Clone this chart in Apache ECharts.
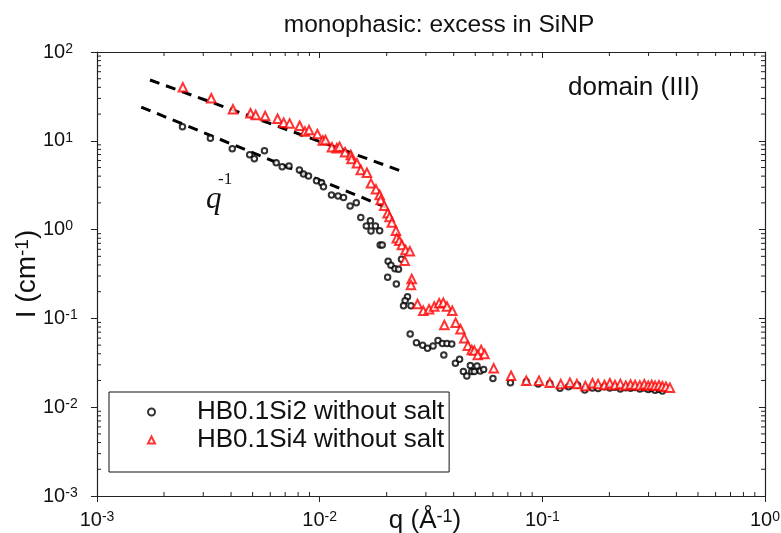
<!DOCTYPE html>
<html>
<head>
<meta charset="utf-8">
<script src="https://cdn.jsdelivr.net/npm/echarts@6/dist/echarts.min.js"></script>
<style>
  html, body { margin: 0; padding: 0; background: #fff; }
  #chart { width: 781px; height: 533px; }
</style>
</head>
<body>
<div id="chart"></div>
<script>
const FONT = 'Liberation Sans, Arial, sans-serif';

// HB0.1Si2 without salt (circles)
const si2Q = [0.00242, 0.00323, 0.00405, 0.00485, 0.00509, 0.00565, 0.00638, 0.00679, 0.00728, 0.00811,
  0.00846, 0.00891, 0.00968, 0.0102, 0.0104, 0.0113, 0.0121, 0.0128, 0.0137, 0.0146,
  0.0153, 0.0162, 0.0169, 0.0178, 0.0170, 0.0186, 0.0187, 0.0191, 0.0203, 0.0209,
  0.0218, 0.0226, 0.0233, 0.0202, 0.0221, 0.0248, 0.0242, 0.0238, 0.0257, 0.0255,
  0.0272, 0.0290, 0.0305, 0.0323, 0.0340, 0.0356, 0.0373, 0.0392, 0.0361, 0.0407,
  0.0425, 0.0442, 0.0458, 0.0475, 0.0482, 0.0495, 0.0509, 0.0526, 0.0545, 0.0600,
  0.0719, 0.0847, 0.0958, 0.108, 0.120, 0.131, 0.144, 0.155, 0.168, 0.178,
  0.190, 0.201, 0.212, 0.224, 0.237, 0.249, 0.261, 0.274, 0.287, 0.299,
  0.310, 0.321, 0.334, 0.346];
const si2I = [14.4, 10.7, 8.15, 6.97, 6.29, 7.74, 5.66, 5.11, 5.20, 4.69,
  4.23, 4.01, 3.55, 3.38, 3.04, 2.45, 2.39, 2.30, 1.84, 2.01,
  1.37, 1.10, 1.26, 1.10, 0.964, 0.97, 0.671, 0.671, 0.440, 0.396,
  0.363, 0.358, 0.463, 0.290, 0.244, 0.175, 0.158, 0.139, 0.139, 0.0668,
  0.0532, 0.0498, 0.0460, 0.0489, 0.0564, 0.0521, 0.0520, 0.0515, 0.0387, 0.0312,
  0.0346, 0.0252, 0.0224, 0.0295, 0.0252, 0.0252, 0.0291, 0.0256, 0.0266, 0.0210,
  0.0189, 0.0194, 0.0182, 0.0185, 0.0163, 0.0170, 0.0177, 0.0156, 0.0165, 0.0162,
  0.0170, 0.0165, 0.0168, 0.0160, 0.0166, 0.0163, 0.0167, 0.0160, 0.0164, 0.0158,
  0.0162, 0.0155, 0.0159, 0.0152];

// HB0.1Si4 without salt (triangles)
const si4Q = [0.00243, 0.00326, 0.00408, 0.00489, 0.00516, 0.00569, 0.00647, 0.00689, 0.00733, 0.00813,
  0.00859, 0.00896, 0.00977, 0.01033, 0.01062, 0.01135, 0.01194, 0.01228, 0.0130, 0.0138,
  0.0139, 0.0147, 0.0153, 0.0163, 0.0170, 0.0179, 0.0186, 0.0188, 0.0195, 0.0202,
  0.0206, 0.0211, 0.0220, 0.0222, 0.0228, 0.0234, 0.0243, 0.0254, 0.0241, 0.0259,
  0.0257, 0.0275, 0.0292, 0.0310, 0.0327, 0.0344, 0.0359, 0.0373, 0.0394, 0.0363,
  0.0408, 0.0429, 0.0446, 0.0463, 0.0482, 0.0495, 0.0531, 0.0513, 0.0550, 0.0605,
  0.0724, 0.0847, 0.0966, 0.108, 0.121, 0.133, 0.143, 0.156, 0.168, 0.178,
  0.190, 0.201, 0.212, 0.224, 0.237, 0.249, 0.261, 0.274, 0.287, 0.299,
  0.310, 0.321, 0.334, 0.346, 0.359, 0.374];
const si4I = [40.0, 30.1, 22.6, 20.4, 19.5, 19.0, 17.7, 16.0, 15.7, 14.8,
  12.7, 13.2, 11.9, 10.1, 10.2, 8.45, 8.24, 8.59, 7.42, 6.92,
  6.24, 5.58, 4.69, 4.37, 3.32, 2.84, 2.45, 2.15, 1.86, 1.53,
  1.39, 1.20, 0.97, 0.80, 0.75, 0.67, 0.59, 0.57, 0.447, 0.278,
  0.238, 0.145, 0.122, 0.127, 0.136, 0.148, 0.150, 0.136, 0.122, 0.0843,
  0.0895, 0.0754, 0.0597, 0.0493, 0.0441, 0.0434, 0.0441, 0.0387, 0.0397, 0.0274,
  0.0226, 0.0199, 0.0199, 0.0189, 0.0182, 0.0189, 0.0182, 0.0173, 0.0186, 0.0182,
  0.0178, 0.0186, 0.0178, 0.0183, 0.0175, 0.0180, 0.0178, 0.0176, 0.0181, 0.0175,
  0.0178, 0.0174, 0.0177, 0.0172, 0.0170, 0.0166];

// q^-1 guide lines
const fitUpperQ = [0.00173, 0.0239];
const fitUpperI = [48.4, 4.45];
const fitLowerQ = [0.00158, 0.0213];
const fitLowerI = [24.0, 1.66];

const xRange = [0.001, 1];
const yRange = [0.001, 100];

// minor tick values 2..9 x 10^k for each decade
function minorTicks(lo, hi) {
  const out = [];
  for (let d = lo; d < hi; d *= 10) {
    for (let m = 2; m <= 9; m++) out.push(+(m * d).toPrecision(3));
  }
  return out;
}
const xMinor = minorTicks(xRange[0], xRange[1]);
const yMinor = minorTicks(yRange[0], yRange[1]);

const zip = (a, b) => a.map((v, i) => [v, b[i]]);

const powLabel = v => {
  const e = Math.round(Math.log10(v));
  return '{b|10}{s|' + e + '}';
};
const labelRich = {
  b: { fontSize: 20, fontFamily: FONT, color: '#111' },
  s: { fontSize: 14, fontFamily: FONT, color: '#111', verticalAlign: 'top', lineHeight: 12 }
};

const axisLineStyle = { color: '#222', width: 1.2 };
const TICK = '#222';

const chart = echarts.init(document.getElementById('chart'));
chart.setOption({
  animation: false,
  backgroundColor: '#fff',
  title: [
    {
      text: 'monophasic: excess in SiNP',
      left: 434, top: 8, textAlign: 'center',
      textStyle: { fontFamily: FONT, fontSize: 24.5, fontWeight: 'normal', color: '#111' }
    },
    {
      text: 'domain (III)',
      left: 563, top: 70,
      textStyle: { fontFamily: FONT, fontSize: 26, fontWeight: 'normal', color: '#111' }
    }
  ],
  grid: { left: 97, right: 16, top: 52, bottom: 37, containLabel: false, outerBoundsMode: 'none' },
  legend: {
    data: ['HB0.1Si2 without salt', 'HB0.1Si4 without salt'],
    orient: 'vertical',
    left: 109, top: 392,
    backgroundColor: '#fff',
    borderColor: '#111', borderWidth: 1, borderRadius: 0,
    padding: [7, 5, 19, 38],
    itemGap: 2,
    itemWidth: 7, itemHeight: 7,
    textStyle: { fontFamily: FONT, fontSize: 26, color: '#111', padding: [0, 0, 0, 37] }
  },
  xAxis: [
    {
      type: 'log', logBase: 10, min: xRange[0], max: xRange[1],
      name: '{n|q (Å}{s|-1}{n|)}',
      nameLocation: 'middle', nameGap: 12, nameMoveOverlap: false,
      nameTextStyle: {
        verticalAlign: 'top',
        padding: [0, 12, 0, 0],
        rich: {
          n: { fontFamily: FONT, fontSize: 26, color: '#111' },
          s: { fontFamily: FONT, fontSize: 18, color: '#111', verticalAlign: 'top', lineHeight: 14 }
        }
      },
      axisLine: { lineStyle: axisLineStyle },
      axisTick: { inside: false, length: 6, lineStyle: { color: TICK } },
      axisLabel: { margin: 14, formatter: powLabel, rich: labelRich },
      splitLine: { show: false }
    },
    {
      type: 'log', logBase: 10, min: xRange[0], max: xRange[1], position: 'top',
      axisLine: { lineStyle: axisLineStyle },
      axisTick: { inside: true, length: 6, lineStyle: { color: TICK } },
      axisLabel: { show: false },
      splitLine: { show: false }
    }
  ],
  yAxis: [
    {
      type: 'log', logBase: 10, min: yRange[0], max: yRange[1],
      name: '{n|I (cm}{s|-1}{n|)}',
      nameLocation: 'middle', nameGap: 56, nameRotate: 90, nameMoveOverlap: false,
      nameTextStyle: {
        rich: {
          n: { fontFamily: FONT, fontSize: 28, color: '#111' },
          s: { fontFamily: FONT, fontSize: 19, color: '#111', verticalAlign: 'top', lineHeight: 14 }
        }
      },
      axisLine: { lineStyle: axisLineStyle },
      axisTick: { inside: false, length: 6, lineStyle: { color: TICK } },
      axisLabel: { margin: 54, align: 'left', formatter: powLabel, rich: labelRich },
      splitLine: { show: false }
    },
    {
      type: 'log', logBase: 10, min: yRange[0], max: yRange[1], position: 'right',
      axisLine: { lineStyle: axisLineStyle },
      axisTick: { inside: true, length: 6, lineStyle: { color: TICK } },
      axisLabel: { show: false },
      splitLine: { show: false }
    }
  ],
  graphic: [
    {
      type: 'text', left: 206, top: 184, silent: true,
      style: { text: 'q', font: 'italic 31px "Liberation Serif", serif', fill: '#111' }
    },
    {
      type: 'text', left: 218, top: 171, silent: true,
      style: { text: '-1', font: '17px "Liberation Serif", serif', fill: '#111' }
    }
  ],
  series: [
    {
      name: 'x-minor', type: 'custom', silent: true, clip: false, z: 1,
      data: xMinor.map(v => [v, 1]),
      renderItem: (params, api) => {
        const v = api.value(0);
        const b = api.coord([v, yRange[0]]);
        const t = api.coord([v, yRange[1]]);
        return {
          type: 'group', children: [
            { type: 'line', shape: { x1: b[0], y1: b[1], x2: b[0], y2: b[1] - 4 }, style: { stroke: TICK, lineWidth: 1 } },
            { type: 'line', shape: { x1: t[0], y1: t[1], x2: t[0], y2: t[1] + 4 }, style: { stroke: TICK, lineWidth: 1 } }
          ]
        };
      }
    },
    {
      name: 'y-minor', type: 'custom', silent: true, clip: false, z: 1,
      data: yMinor.map(v => [0.01, v]),
      renderItem: (params, api) => {
        const v = api.value(1);
        const l = api.coord([xRange[0], v]);
        const r = api.coord([xRange[1], v]);
        return {
          type: 'group', children: [
            { type: 'line', shape: { x1: l[0], y1: l[1], x2: l[0] + 4, y2: l[1] }, style: { stroke: TICK, lineWidth: 1 } },
            { type: 'line', shape: { x1: r[0], y1: r[1], x2: r[0] - 4, y2: r[1] }, style: { stroke: TICK, lineWidth: 1 } }
          ]
        };
      }
    },
    {
      name: 'fit-upper', type: 'line', data: zip(fitUpperQ, fitUpperI),
      symbol: 'none', silent: true, z: 3,
      lineStyle: { color: '#000', width: 3, type: [10, 7] }
    },
    {
      name: 'fit-lower', type: 'line', data: zip(fitLowerQ, fitLowerI),
      symbol: 'none', silent: true, z: 3,
      lineStyle: { color: '#000', width: 3, type: [10, 7] }
    },
    {
      name: 'HB0.1Si2 without salt', type: 'scatter', data: zip(si2Q, si2I),
      symbol: 'emptyCircle', symbolSize: 5.5, z: 4,
      itemStyle: { color: '#000', borderColor: '#000', borderWidth: 1.1 }
    },
    {
      name: 'HB0.1Si4 without salt', type: 'scatter', data: zip(si4Q, si4I),
      symbol: 'emptyTriangle', symbolSize: 8.5, z: 5,
      itemStyle: { color: '#ff0000', borderColor: '#ff0000', borderWidth: 1.1 }
    }
  ]
});
</script>
</body>
</html>
